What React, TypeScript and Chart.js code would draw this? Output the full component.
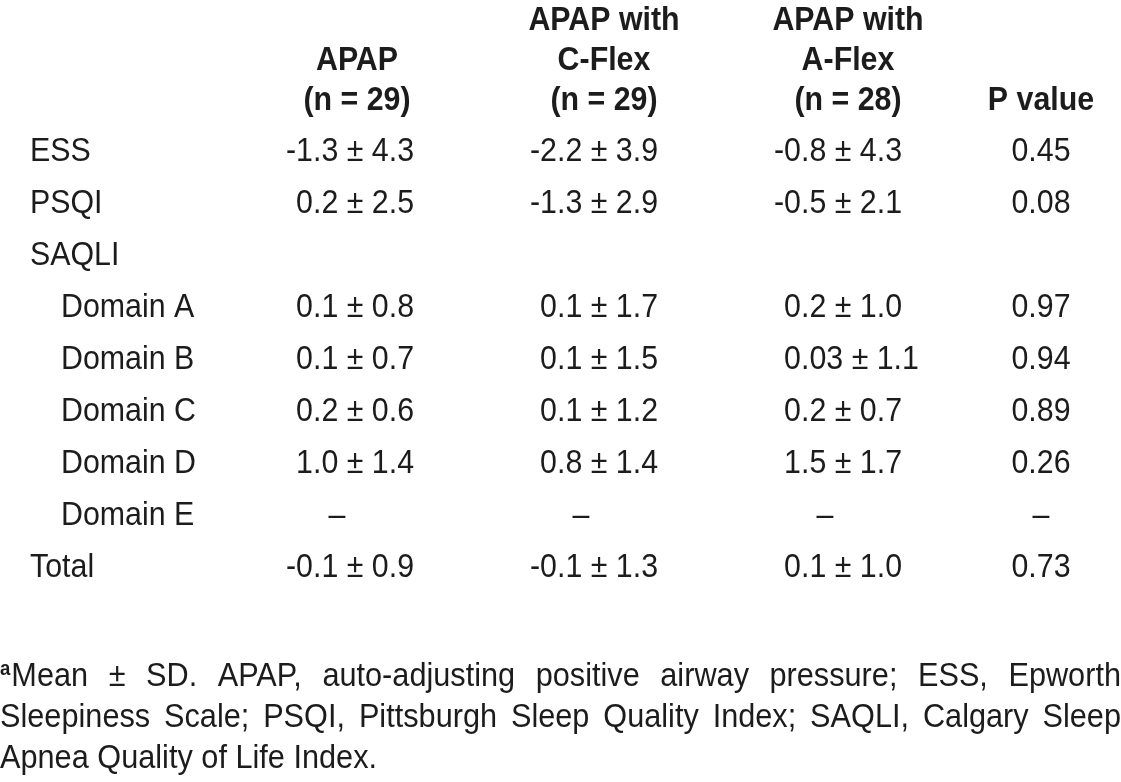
import React, { useEffect, useRef } from "react";
import { Chart, registerables } from "chart.js";

Chart.register(...registerables);

// ---------- data ----------
const rowLabels = ["ESS", "PSQI", "SAQLI", "Domain A", "Domain B", "Domain C", "Domain D", "Domain E", "Total"];
const rowIndent = [0, 0, 0, 1, 1, 1, 1, 1, 0];

const apapValues = ["-1.3 ± 4.3", "0.2 ± 2.5", "", "0.1 ± 0.8", "0.1 ± 0.7", "0.2 ± 0.6", "1.0 ± 1.4", "–", "-0.1 ± 0.9"];
const cflexValues = ["-2.2 ± 3.9", "-1.3 ± 2.9", "", "0.1 ± 1.7", "0.1 ± 1.5", "0.1 ± 1.2", "0.8 ± 1.4", "–", "-0.1 ± 1.3"];
const aflexValues = ["-0.8 ± 4.3", "-0.5 ± 2.1", "", "0.2 ± 1.0", "0.03 ± 1.1", "0.2 ± 0.7", "1.5 ± 1.7", "–", "0.1 ± 1.0"];
const pValues = ["0.45", "0.08", "", "0.97", "0.94", "0.89", "0.26", "–", "0.73"];

const header1 = ["", "APAP", "(n = 29)"];
const header2 = ["APAP with", "C-Flex", "(n = 29)"];
const header3 = ["APAP with", "A-Flex", "(n = 28)"];
const header4 = ["", "", "P value"];

const footLine1 = ["Mean", "±", "SD.", "APAP,", "auto-adjusting", "positive", "airway", "pressure;", "ESS,", "Epworth"];
const footLine2 = ["Sleepiness", "Scale;", "PSQI,", "Pittsburgh", "Sleep", "Quality", "Index;", "SAQLI,", "Calgary", "Sleep"];
const footLine3 = "Apnea Quality of Life Index.";
const footSup = "a";

// ---------- layout (x in px along a 0..1121 linear scale) ----------
const W = 1121;
const H = 782;
const FAMILY = "'Liberation Sans', Arial, sans-serif";
const SX = 0.92;
const FOOT_SX = 0.93;
const COLOR = "#1c1c1c";
const labelX = [30, 61];
const valueAnchors = [313, 557, 801]; // decimal-point alignment
const headerCenters = [357, 604, 848, 1041];
const pCenter = 1041;
const dashOffset = 24;
const headerOffsets = [-131, -91, -51];
const footOffsets = [109, 150, 191];

function drawText(ctx: CanvasRenderingContext2D, s: string, x: number, y: number, align: CanvasTextAlign, font: string, sx: number) {
  ctx.save();
  ctx.font = font;
  ctx.translate(x, y);
  ctx.scale(sx, 1);
  ctx.textAlign = align;
  ctx.textBaseline = "alphabetic";
  ctx.fillStyle = COLOR;
  ctx.fillText(s, 0, 0);
  ctx.restore();
}
function measure(ctx: CanvasRenderingContext2D, s: string, font: string, sx: number) {
  ctx.save();
  ctx.font = font;
  const w = ctx.measureText(s).width * sx;
  ctx.restore();
  return w;
}

const tablePlugin = {
  id: "tablePlugin",
  afterDraw(chart: any) {
    const ctx: CanvasRenderingContext2D = chart.ctx;
    const xs = chart.scales.x;
    const ys = chart.scales.y;
    const fNorm = `33px ${FAMILY}`;
    const fBold = `bold 33px ${FAMILY}`;
    const fFoot = `33px ${FAMILY}`;
    const px = (v: number) => xs.getPixelForValue(v);
    const top = ys.getPixelForValue(0);
    const bottom = ys.getPixelForValue(rowLabels.length - 1);

    // headers
    const headers = [header1, header2, header3, header4];
    headers.forEach((h, c) => {
      h.forEach((line, li) => {
        if (line) drawText(ctx, line, px(headerCenters[c]), top + headerOffsets[li], "center", fBold, SX);
      });
    });

    // rows
    const cols = [apapValues, cflexValues, aflexValues];
    rowLabels.forEach((lab, i) => {
      const y = ys.getPixelForValue(i);
      drawText(ctx, lab, px(labelX[rowIndent[i]]), y, "left", fNorm, SX);
      cols.forEach((col, c) => {
        const v = col[i];
        if (!v) return;
        const a = px(valueAnchors[c]);
        if (v === "–") {
          drawText(ctx, v, a + dashOffset, y, "center", fNorm, SX);
          return;
        }
        const dot = v.indexOf(".");
        drawText(ctx, v.slice(0, dot), a, y, "right", fNorm, SX);
        drawText(ctx, v.slice(dot), a, y, "left", fNorm, SX);
      });
      if (pValues[i]) drawText(ctx, pValues[i], px(pCenter), y, "center", fNorm, SX);
    });

    // footnote
    const left = px(0);
    const right = px(W);
    const supFont = `bold 20px ${FAMILY}`;
    const supW = measure(ctx, footSup, supFont, FOOT_SX) + 1;
    const justify = (words: string[], y: number, lead: number) => {
      const widths = words.map((w) => measure(ctx, w, fFoot, FOOT_SX));
      const total = widths.reduce((a, b) => a + b, 0) + lead;
      const gap = (right - left - total) / (words.length - 1);
      let x = left + lead;
      words.forEach((w, k) => {
        drawText(ctx, w, x, y, "left", fFoot, FOOT_SX);
        x += widths[k] + gap;
      });
    };
    const y1 = bottom + footOffsets[0];
    drawText(ctx, footSup, left, y1 - 11, "left", supFont, FOOT_SX);
    justify(footLine1, y1, supW);
    justify(footLine2, bottom + footOffsets[1], 0);
    drawText(ctx, footLine3, left, bottom + footOffsets[2], "left", fFoot, FOOT_SX);
  },
};

export default function App() {
  const ref = useRef<HTMLCanvasElement | null>(null);
  useEffect(() => {
    document.body.style.margin = "0";
    document.body.style.background = "#ffffff";
    const canvas = ref.current;
    if (!canvas) return;
    const chart = new Chart(canvas, {
      type: "scatter",
      data: { datasets: [{ data: [], showLine: false }] },
      options: {
        responsive: false,
        animation: false,
        devicePixelRatio: 1,
        layout: { padding: { top: 161, bottom: H - 577, left: 0, right: 0 } },
        plugins: { legend: { display: false }, tooltip: { enabled: false }, title: { display: false } },
        scales: {
          x: { type: "linear", min: 0, max: W, display: false },
          y: { type: "category", labels: rowLabels, offset: false, display: false },
        },
      },
      plugins: [tablePlugin],
    } as any);
    return () => chart.destroy();
  }, []);
  return (
    <div style={{ width: W, height: H, background: "#fff" }}>
      <canvas ref={ref} width={W} height={H} style={{ display: "block", width: W, height: H }} />
    </div>
  );
}
